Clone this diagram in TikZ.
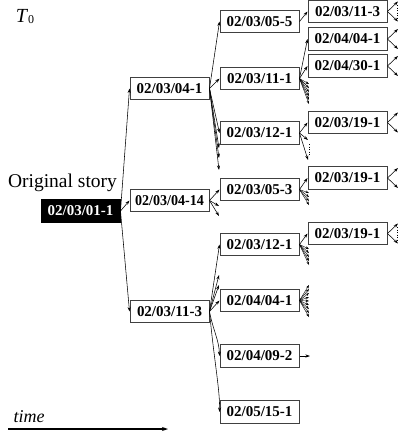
\documentclass[tikz,border=0pt]{standalone}
\usepackage{fontspec}
\setmainfont{Liberation Serif}
\usetikzlibrary{arrows.meta}
\begin{document}
\begin{tikzpicture}[x=1pt,y=-1pt,
  box/.style={draw=black!75, line width=1pt, fill=white, minimum width=79pt, minimum height=22.5pt, inner sep=0pt, font=\fontsize{15}{16}\selectfont\bfseries},
  rootbox/.style={box, fill=black, draw=black, text=white},
  conn/.style={line width=0.55pt, -{Stealth[length=4.5pt,width=3pt]}},
  fan/.style={line width=0.4pt, -{Stealth[length=3.5pt,width=2.5pt]}},
  dotline/.style={line width=1pt, dash pattern=on 1pt off 1.5pt}]
\useasboundingbox (0,0) rectangle (398,437);

% labels
\node (t0) at (25,17) {\fontsize{20}{21}\selectfont\textit{T}\raisebox{-1pt}{\fontsize{12}{13}\selectfont 0}};
\node (orig) at (62.5,183) {\fontsize{19.5}{21}\selectfont Original story};
\node (time) at (29,417) {\fontsize{18}{19}\selectfont\itshape time};
\coordinate (ts) at (8,429);
\coordinate (te) at (168,429);
\draw[line width=1.5pt,-{Stealth[length=6pt,width=4pt]}] (ts) -- (te);

% boxes
\node[rootbox] (root) at (80.5,211) {02/03/01-1};
\node[box] (a1) at (169.5,88.5) {02/03/04-1};
\node[box] (a2) at (169.5,200.5) {\scalebox{0.94}[1]{02/03/04-14}};
\node[box] (a3) at (169.5,311.5) {02/03/11-3};
\node[box] (b1) at (259.5,21.5) {02/03/05-5};
\node[box] (b2) at (259.5,78.5) {02/03/11-1};
\node[box] (b3) at (259.5,133) {02/03/12-1};
\node[box] (b4) at (259.5,189.5) {02/03/05-3};
\node[box] (b5) at (259.5,244.5) {02/03/12-1};
\node[box] (b6) at (259.5,300.5) {02/04/04-1};
\node[box] (b7) at (259.5,356) {02/04/09-2};
\node[box] (b8) at (259.5,412) {02/05/15-1};
\node[box] (c1) at (347.5,11.5) {02/03/11-3};
\node[box] (c2) at (347.5,39) {02/04/04-1};
\node[box] (c3) at (347.5,66) {02/04/30-1};
\node[box] (c4) at (347.5,122.5) {02/03/19-1};
\node[box] (c5) at (347.5,178) {02/03/19-1};
\node[box] (c6) at (347.5,233.5) {02/03/19-1};

% root edges
\draw[conn] (root.east) -- (a1.west);
\draw[conn] (root.east) -- (a2.west);
\draw[conn] (root.east) -- (a3.west);

% a1 edges
\draw[conn] (a1.east) -- (b1.west);
\draw[conn] (a1.east) -- (b2.west);
\draw[conn] (a1.east) -- (b3.west);
\foreach \y [count=\i] in {148,158,170} {
  \coordinate (a1d\i) at (219,\y);
  \draw[conn] (a1.east) -- (a1d\i);
}

% a2 edges
\draw[conn] (a2.east) -- (b4.west);
\foreach \y [count=\i] in {206,216} {
  \coordinate (a2d\i) at (219,\y);
  \draw[conn] (a2.east) -- (a2d\i);
}

% a3 edges
\draw[conn] (a3.east) -- (b5.west);
\foreach \y [count=\i] in {275,285} {
  \coordinate (a3d\i) at (219,\y);
  \draw[conn] (a3.east) -- (a3d\i);
}
\draw[conn] (a3.east) -- (b6.west);
\draw[conn] (a3.east) .. controls (213,330) and (219,340) .. (b7.west);
\draw[conn] (a3.east) .. controls (214,360) and (220,390) .. (b8.west);

% level 2 -> level 3
\draw[conn] (b1.east) -- (c1.west);
\draw[conn] (b2.east) -- (c2.west);
\draw[conn] (b2.east) -- (c3.west);
\foreach \y [count=\i] in {84,88,92,96,100,104} {
  \coordinate (b2d\i) at (309,\y);
  \draw[fan] (b2.east) -- (b2d\i);
}
\draw[conn] (b3.east) -- (c4.west);
\coordinate (b3d1) at (308,140);
\coordinate (b3d2) at (308,160);
\draw[conn] (b3.east) -- (b3d1);
\draw[conn] (b3.east) -- (b3d2);
\coordinate (b3p1) at (309.5,144);
\coordinate (b3p2) at (309.5,155);
\draw[dotline] (b3p1) -- (b3p2);

\draw[conn] (b4.east) -- (c5.west);
\foreach \y [count=\i] in {193,197,201,205} {
  \coordinate (b4d\i) at (309,\y);
  \draw[fan] (b4.east) -- (b4d\i);
}
\draw[conn] (b5.east) -- (c6.west);
\foreach \y [count=\i] in {249,253,257,261,265} {
  \coordinate (b5d\i) at (309,\y);
  \draw[fan] (b5.east) -- (b5d\i);
}
\foreach \y [count=\i] in {285,289,293,297,301,305,309,313,317} {
  \coordinate (b6d\i) at (309,\y);
  \draw[fan] (b6.east) -- (b6d\i);
}
\coordinate (b7d) at (310,356);
\draw[conn] (b7.east) -- (b7d);

% level 3 outgoing
\foreach \n/\y in {c1/11.5,c2/39,c3/66,c4/122.5,c5/178,c6/233.5} {
  \coordinate (\n u) at (398,\y-10);
  \coordinate (\n l) at (398,\y+10);
  \draw[conn] (\n.east) -- (\n u);
  \draw[conn] (\n.east) -- (\n l);
}
\coordinate (c1p1) at (397,5);
\coordinate (c1p2) at (397,18);
\draw[dotline] (c1p1) -- (c1p2);
\coordinate (c6p1) at (397,227);
\coordinate (c6p2) at (397,241);
\draw[dotline] (c6p1) -- (c6p2);
\end{tikzpicture}
\end{document}
